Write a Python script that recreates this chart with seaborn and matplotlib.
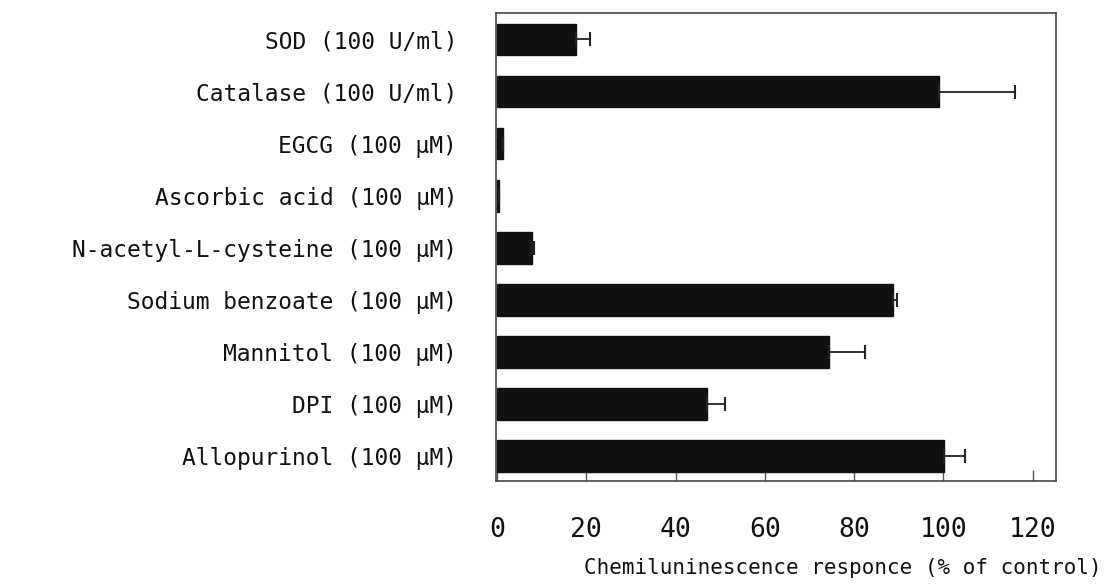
import matplotlib
matplotlib.use("Agg")
import matplotlib.pyplot as plt
import seaborn as sns
import pandas as pd
import numpy as np

categories = [
    "SOD (100 U/ml)",
    "Catalase (100 U/ml)",
    "EGCG (100 µM)",
    "Ascorbic acid (100 µM)",
    "N-acetyl-L-cysteine (100 µM)",
    "Sodium benzoate (100 µM)",
    "Mannitol (100 µM)",
    "DPI (100 µM)",
    "Allopurinol (100 µM)",
]
values = [17.8, 99.0, 1.3, 0.4, 7.9, 88.6, 74.4, 47.0, 100.2]
errors = [3.1, 17.0, 0.0, 0.0, 0.4, 1.1, 8.0, 4.0, 4.6]
xticks = [0, 20, 40, 60, 80, 100, 120]

sns.set_theme(style="white")
plt.rcParams["font.family"] = ["DejaVu Sans Mono", "DejaVu Sans"]

df = pd.DataFrame({"cat": categories, "val": values, "err": errors})

fig = plt.figure(figsize=(11.08, 5.87), dpi=100)
ax = fig.add_axes([0.4477, 0.1806, 0.5053, 0.7974])

sns.barplot(data=df, x="val", y="cat", orient="h", color="#111111",
            errorbar=None, width=0.61, ax=ax, saturation=1)
for p in ax.patches:
    p.set_edgecolor("#111111")

ypos = np.arange(len(categories))
ax.errorbar(df["val"], ypos, xerr=[np.zeros(len(errors)), df["err"]],
            fmt="none", ecolor="#222222", elinewidth=1.3, capsize=5, capthick=1.5)

ax.set_xlim(-0.2, 125.2)
ax.set_ylim(8.48, -0.51)
ax.set_xticks(xticks)
ax.set_xticklabels([str(t) for t in xticks], fontsize=19, color="#111111")
ax.tick_params(axis="x", direction="in", length=8, width=1, color="#555555",
               pad=26, bottom=True)
ax.tick_params(axis="y", left=False, labelsize=16.5, pad=22)
for lbl in ax.get_yticklabels():
    lbl.set_color("#111111")

for s in ax.spines.values():
    s.set_visible(True)
    s.set_color("#444444")
    s.set_linewidth(1.2)

ax.set_ylabel("")
ax.set_xlabel("Chemiluninescence responce (% of control)", fontsize=15,
              color="#111111")
ax.xaxis.set_label_coords(0.62, -0.186)
ax.xaxis.label.set_verticalalignment("center")

fig.savefig("out.png", dpi=100)
